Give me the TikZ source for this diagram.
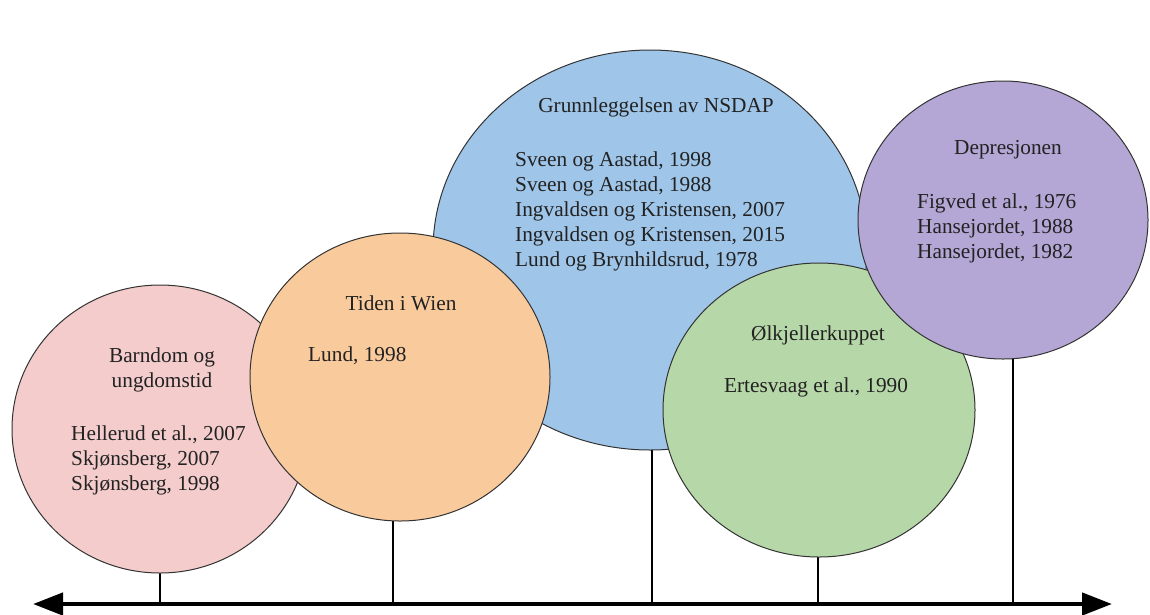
\documentclass[tikz,border=0pt]{standalone}
\usepackage{fontspec}
\setmainfont{Liberation Serif}
\usetikzlibrary{shapes.geometric,arrows.meta}
\pgfdeclarelayer{bg}
\pgfsetlayers{bg,main}
\definecolor{pinkfill}{HTML}{F4CCCC}
\definecolor{orangefill}{HTML}{F9CB9C}
\definecolor{bluefill}{HTML}{9FC5E8}
\definecolor{greenfill}{HTML}{B6D7A8}
\definecolor{purplefill}{HTML}{B4A7D6}
\definecolor{edge}{HTML}{333333}
\definecolor{ink}{HTML}{222222}
\begin{document}
\begin{tikzpicture}[x=1pt,y=-1pt,
  bubble/.style={ellipse,draw=edge,line width=1pt,inner sep=0pt,outer sep=0pt},
  txt/.style={font=\fontsize{21.3}{25}\selectfont,text=ink,inner sep=0pt},
  bubbletitle/.style={txt,align=center},
  refs/.style={txt,align=left,anchor=west},
  stem/.style={line width=1.6pt,draw=black},
  axisline/.style={line width=4.5pt,{Triangle[length=30pt,width=22pt]}-{Triangle[length=30pt,width=22pt]}}
]
\useasboundingbox (0,0) rectangle (1150,614);

% timeline and the points where the stems meet it
\coordinate (left) at (33,604);
\coordinate (right) at (1112,604);
\coordinate (t1) at (160,604);
\coordinate (t2) at (393,604);
\coordinate (t3) at (652,604);
\coordinate (t4) at (818,604);
\coordinate (t5) at (1013,604);
\draw[axisline] (left) -- (right);

% bubbles, back to front
\node[bubble,fill=bluefill,minimum width=434pt,minimum height=400pt] (blue) at (650,250) {};
\node[bubble,fill=pinkfill,minimum width=296pt,minimum height=288pt] (pink) at (160,429) {};
\node[bubble,fill=orangefill,minimum width=300pt,minimum height=288pt] (orange) at (400,377) {};
\node[bubble,fill=greenfill,minimum width=312pt,minimum height=294pt] (green) at (819,410) {};
\node[bubble,fill=purplefill,minimum width=290pt,minimum height=278pt] (purple) at (1003,220) {};

% stems from the timeline up to each bubble
\begin{pgfonlayer}{bg}
\draw[stem] (t1) -- (t1 |- pink.center);
\draw[stem] (t2) -- (t2 |- orange.center);
\draw[stem] (t3) -- (t3 |- blue.center);
\draw[stem] (t4) -- (t4 |- green.center);
\draw[stem] (t5) -- (t5 |- purple.center);
\end{pgfonlayer}

% texts
\node[bubbletitle] (pinktitle) at (162,370) {Barndom og\\ungdomstid};
\node[refs] (pinkrefs) at (71,460) {Hellerud et al., 2007\\Skjønsberg, 2007\\Skjønsberg, 1998};

\node[bubbletitle] (orangetitle) at (401,303) {Tiden i Wien};
\node[refs] (orangerefs) at (308,356) {Lund, 1998};

\node[bubbletitle] (bluetitle) at (656,107) {Grunnleggelsen av NSDAP};
\node[refs] (bluerefs) at (515,211) {Sveen og Aastad, 1998\\Sveen og Aastad, 1988\\Ingvaldsen og Kristensen, 2007\\Ingvaldsen og Kristensen, 2015\\Lund og Brynhildsrud, 1978};

\node[bubbletitle] (greentitle) at (818,335) {Ølkjellerkuppet};
\node[bubbletitle] (greenrefs) at (816,387) {Ertesvaag et al., 1990};

\node[bubbletitle] (purpletitle) at (1008,150) {Depresjonen};
\node[refs] (purplerefs) at (917,228) {Figved et al., 1976\\Hansejordet, 1988\\Hansejordet, 1982};
\end{tikzpicture}
\end{document}
